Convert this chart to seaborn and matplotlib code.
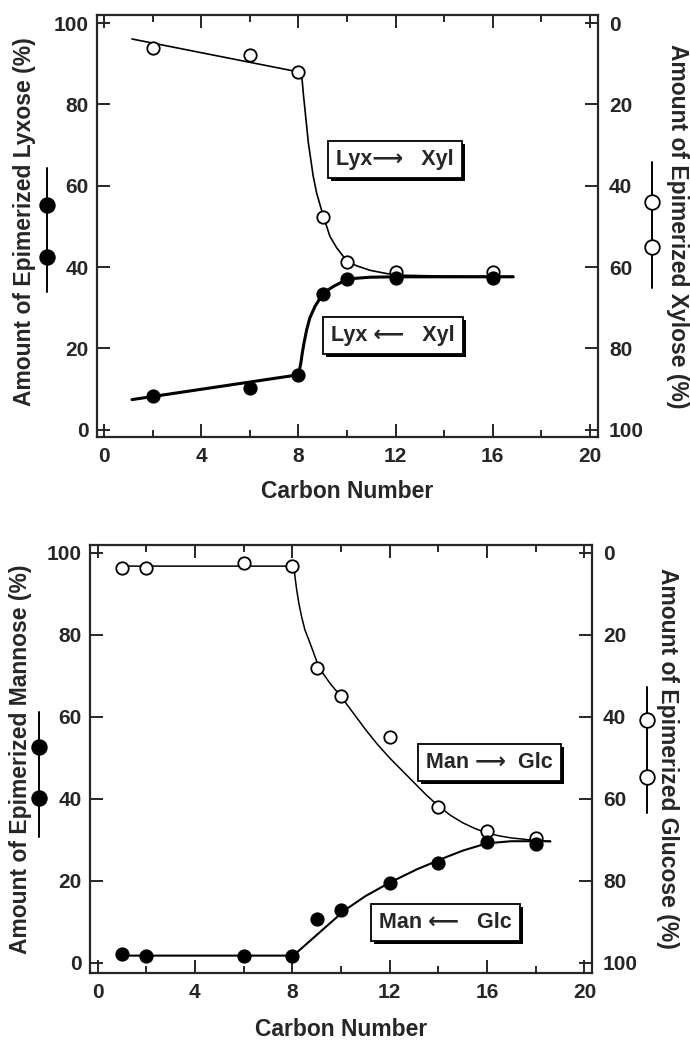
import matplotlib
matplotlib.use("Agg")
import matplotlib.pyplot as plt
import matplotlib.patheffects as pe
from matplotlib.lines import Line2D
import seaborn as sns

# ---------------------------------------------------------------- data
# Upper panel: lyxose <-> xylose
lyx_carbon = [2, 6, 8, 9, 10, 12, 16]
lyx_from_xyl = [8.4, 10.3, 13.5, 33.4, 37.1, 37.3, 37.3]      # filled, left axis (%)
xyl_from_lyx = [6.1, 7.9, 12.0, 47.6, 58.7, 61.2, 61.2]       # open, right axis (%)

# hand-fitted trend curves (same units as the series they follow)
lyx_fit_x = [1.15, 8.0, 8.1, 8.16, 8.23, 8.34, 8.47, 8.68, 9.02, 9.43, 10.04, 10.95, 12.0, 16.84]
lyx_fit_y = [7.4, 13.5, 16.4, 18.9, 21.3, 24.6, 27.5, 30.3, 33.6, 35.2, 37.1, 37.5, 37.6, 37.6]
xyl_fit_x = [1.15, 8.0, 8.14, 8.2, 8.27, 8.34, 8.41, 8.51, 8.61, 8.75, 9.03, 9.3, 9.58,
             9.85, 10.04, 10.4, 10.95, 11.63, 12.18, 13.8, 16.84]
xyl_fit_y = [3.9, 12.0, 13.1, 17.2, 21.3, 25.4, 29.5, 33.6, 37.7, 41.8, 47.6, 52.5, 55.3,
             57.4, 58.7, 59.7, 60.8, 61.6, 62.0, 62.2, 62.3]

# Lower panel: mannose <-> glucose
man_carbon = [1, 2, 6, 8, 9, 10, 12, 14, 16, 18]
man_from_glc = [2.2, 1.7, 1.7, 1.7, 10.7, 13.0, 19.5, 24.5, 29.6, 29.0]    # filled, left axis (%)
glc_from_man = [3.7, 3.7, 2.4, 3.2, 28.0, 35.0, 45.0, 62.0, 67.7, 69.5]    # open, right axis (%)

man_fit_x = [1.05, 8.04, 10.16, 11.0, 12.0, 13.1, 14.35, 15.0, 16.0, 17.0, 18.6]
man_fit_y = [1.8, 1.8, 12.9, 16.3, 19.6, 22.8, 25.9, 27.4, 29.2, 29.7, 29.7]
glc_fit_x = [1.05, 8.07, 8.11, 8.18, 8.27, 8.38, 8.52, 8.73, 9.1, 9.55, 10.0, 10.5, 11.0,
             11.5, 12.0, 12.5, 13.0, 13.5, 14.0, 14.5, 15.0, 15.5, 16.0, 16.5, 17.0,
             17.8, 18.6]
glc_fit_y = [3.2, 3.2, 5.8, 9.0, 12.3, 15.5, 18.8, 22.0, 28.0, 31.8, 35.0, 39.0, 43.0,
             46.7, 50.0, 53.0, 56.0, 59.0, 61.7, 64.0, 65.8, 67.2, 68.3, 69.0, 69.5,
             70.0, 70.4]

x_major = [0, 4, 8, 12, 16, 20]
x_minor = [2, 6, 10, 14, 18]
y_ticks = [0, 20, 40, 60, 80, 100]

# ---------------------------------------------------------------- style
sns.set_style("ticks")
plt.rcParams["font.family"] = ["Liberation Sans", "DejaVu Sans"]
plt.rcParams["font.weight"] = "bold"
plt.rcParams["axes.linewidth"] = 1.6

W, H = 690, 1042
fig = plt.figure(figsize=(W / 100, H / 100), dpi=100)
fig.patch.set_facecolor("white")


def px_axes(left, top, right, bottom):
    return fig.add_axes([left / W, 1 - bottom / H, (right - left) / W, (bottom - top) / H])


def style_panel(ax, ax2, xlim, ylim, ylim_right):
    ax.set_xlim(*xlim)
    ax.set_ylim(*ylim)
    ax2.set_ylim(*ylim_right)
    ax.set_xticks(x_major)
    ax.set_xticks(x_minor, minor=True)
    ax.set_yticks(y_ticks)
    ax2.set_yticks(y_ticks)
    ax.tick_params(axis="x", which="both", direction="in", top=True, bottom=True,
                   width=1.4, labelsize=15, pad=7)
    ax.tick_params(axis="x", which="major", length=9.5)
    ax.tick_params(axis="x", which="minor", length=5)
    ax.tick_params(axis="y", which="major", direction="in", left=True, right=False,
                   length=9.5, width=1.4, labelsize=15, pad=6)
    ax2.tick_params(axis="y", which="major", direction="in", right=True, left=False,
                    length=9.5, width=1.4, labelsize=15, pad=8)
    ax.spines["right"].set_visible(False)
    for side in ("left", "top", "bottom"):
        ax2.spines[side].set_visible(False)
    ax2.spines["right"].set_linewidth(1.6)
    ax.set_xlabel("")
    ax.set_ylabel("")
    ax2.set_ylabel("")
    ax.set_zorder(2)
    ax2.set_zorder(1)
    ax.patch.set_visible(False)


def draw_series(ax, x, y, fx, fy, filled, curve_lw):
    sns.lineplot(x=fx, y=fy, ax=ax, color="black", linewidth=curve_lw,
                 sort=False, estimator=None, zorder=3)
    sns.scatterplot(x=x, y=y, ax=ax, marker="o", s=80,
                    color="black" if filled else "white", edgecolor="black",
                    linewidth=1.3, zorder=4)


def boxed(ax, x, y, label):
    t = ax.text(x, y, label, ha="center", va="center", fontsize=15.5, fontweight="bold",
                family=["Liberation Sans", "DejaVu Sans"], zorder=6,
                bbox=dict(boxstyle="square,pad=0.38", fc="white", ec="black", lw=1.3))
    t.get_bbox_patch().set_path_effects(
        [pe.SimplePatchShadow(offset=(2.2, -2.2), shadow_rgbFace="black", alpha=1.0),
         pe.Normal()])


def key(xp, y0, y1, c1, c2, filled):
    xf = xp / W
    fig.add_artist(Line2D([xf, xf], [1 - y0 / H, 1 - y1 / H], transform=fig.transFigure,
                          color="black", lw=1.4))
    fig.add_artist(Line2D([xf, xf], [1 - c1 / H, 1 - c2 / H], transform=fig.transFigure,
                          ls="none", marker="o", ms=10.5,
                          mfc="black" if filled else "white", mec="black", mew=1.3))


def label(xp, yp, text, rot):
    fig.text(xp / W, 1 - yp / H, text, ha="center", va="center", rotation=rot,
             fontsize=16.5, fontweight="bold")


# ---------------------------------------------------------------- upper panel
ax = px_axes(97, 15, 598, 437)
ax2 = ax.twinx()
draw_series(ax2, lyx_carbon, xyl_from_lyx, xyl_fit_x, xyl_fit_y, False, 1.2)
draw_series(ax, lyx_carbon, lyx_from_xyl, lyx_fit_x, lyx_fit_y, True, 2.2)
style_panel(ax, ax2, (-0.29, 20.33), (-1.8, 102.0), (101.8, -2.0))
boxed(ax, 11.98, 66.4, "Lyx\u27f6   Xyl")
boxed(ax, 11.9, 23.2, "Lyx \u27f5   Xyl")
label(347, 491, "Carbon Number", 0)
label(25, 222, "Amount of Epimerized Lyxose (%)", 90)
label(678, 226, "Amount of Epimerized Xylose (%)", 270)
key(47, 168, 292, 205, 257, True)
key(652, 162, 288, 202, 247, False)

# ---------------------------------------------------------------- lower panel
bx = px_axes(90, 545, 592, 973)
bx2 = bx.twinx()
draw_series(bx2, man_carbon, glc_from_man, glc_fit_x, glc_fit_y, False, 1.1)
draw_series(bx, man_carbon, man_from_glc, man_fit_x, man_fit_y, True, 1.5)
style_panel(bx, bx2, (-0.31, 20.31), (-2.44, 101.95), (102.44, -1.95))
boxed(bx, 16.1, 48.9, "Man \u27f6  Glc")
boxed(bx, 14.3, 9.9, "Man \u27f5   Glc")
label(341, 1030, "Carbon Number", 0)
label(21, 759, "Amount of Epimerized Mannose (%)", 90)
label(668, 758, "Amount of Epimerized Glucose (%)", 270)
key(39, 712, 837, 747, 798, True)
key(647, 687, 813, 720, 777, False)

fig.savefig("out.png", dpi=100, facecolor="white")
